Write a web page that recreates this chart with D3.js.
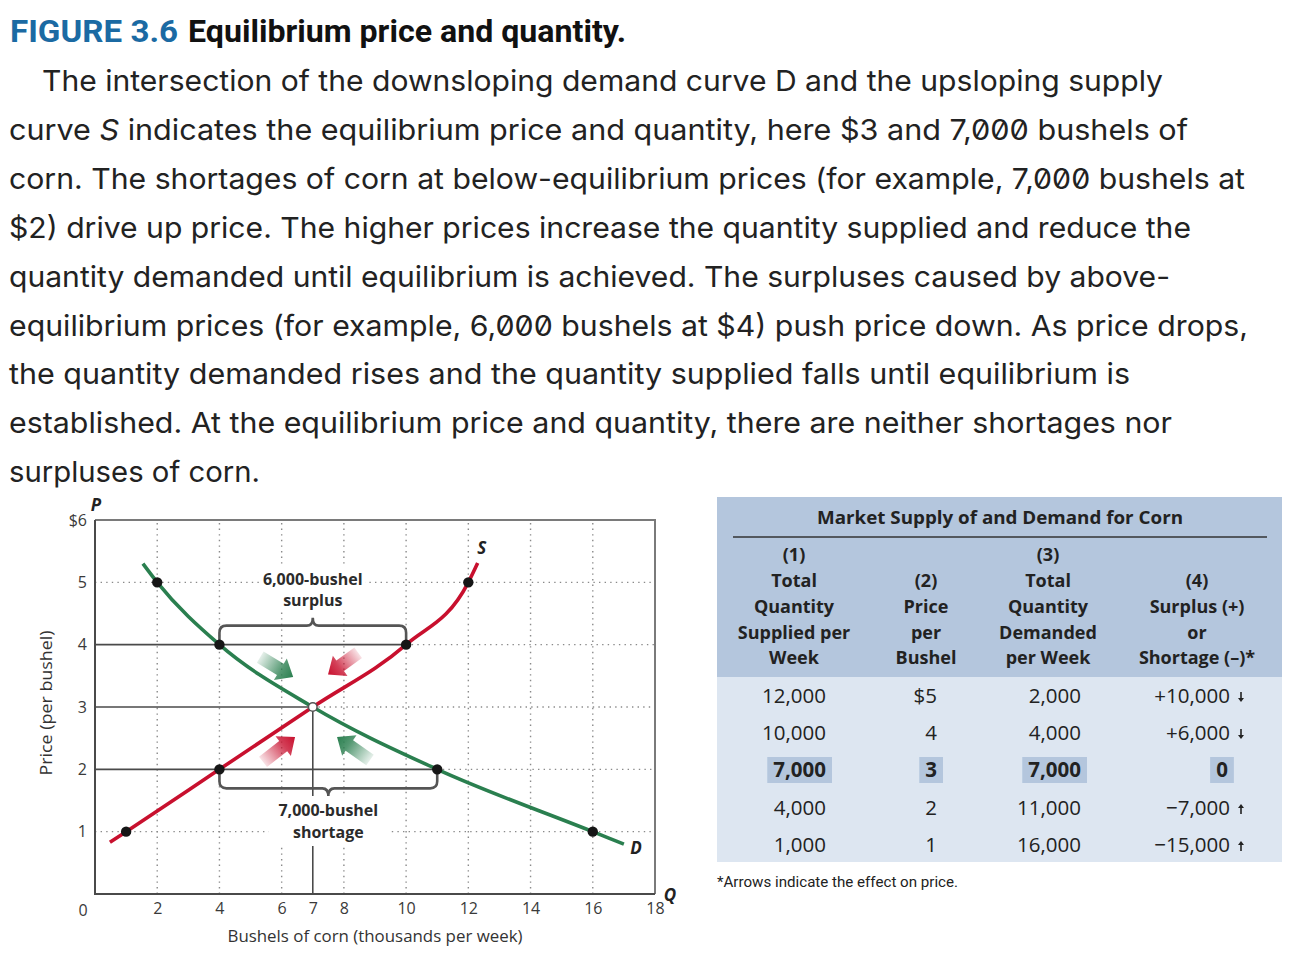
<!DOCTYPE html>
<html><head><meta charset="utf-8">
<script src="https://cdn.jsdelivr.net/npm/d3@7"></script>
<style>
body{margin:0;background:#fff;}
.para{font-family:Inter,"Noto Sans",sans-serif;font-size:29px;fill:#222;font-feature-settings:"zero" 1;}
.chart{font-family:"Open Sans",sans-serif;}
</style></head><body>
<svg id="c" width="1300" height="968"></svg>
<script>
// ---------- DATA ----------
const figureLabel = "FIGURE 3.6";
const figureTitle = "Equilibrium price and quantity.";
const paragraph = [
  ["The intersection of the downsloping demand curve D and the upsloping supply"],
  ["curve ", {i:"S"}, " indicates the equilibrium price and quantity, here $3 and 7,000 bushels of"],
  ["corn. The shortages of corn at below-equilibrium prices (for example, 7,000 bushels at"],
  ["$2) drive up price. The higher prices increase the quantity supplied and reduce the"],
  ["quantity demanded until equilibrium is achieved. The surpluses caused by above-"],
  ["equilibrium prices (for example, 6,000 bushels at $4) push price down. As price drops,"],
  ["the quantity demanded rises and the quantity supplied falls until equilibrium is"],
  ["established. At the equilibrium price and quantity, there are neither shortages nor"],
  ["surpluses of corn."]
];
const paraWidths = [1121, 1179, 1236, 1182, 1161, 1239, 1121, 1163, 251];

const prices = [5, 4, 3, 2, 1];                       // $ per bushel
const quantitySupplied = [12000, 10000, 7000, 4000, 1000];
const quantityDemanded = [2000, 4000, 7000, 11000, 16000];
const equilibriumPrice = 3;

// visible ends of the curves (thousands of bushels, $)
const demandCurveStart = [1.54, 5.3];
const demandCurveEnd = [17.0, 0.8];
const supplyCurveStart = [0.48, 0.83];
const supplyCurveEnd = [12.3, 5.31];

const xTicks = [2, 4, 6, 7, 8, 10, 12, 14, 16, 18];
const yTicks = [1, 2, 3, 4, 5, 6];
const gridQ = [2, 4, 6, 8, 10, 12, 14, 16];

// price-pressure arrows [fromQ, fromP, toQ, toP, colour]
const pressureArrows = [
  [5.31, 3.80, 6.37, 3.48, "green"],
  [8.46, 3.87, 7.49, 3.52, "red"],
  [5.40, 2.12, 6.43, 2.52, "red"],
  [8.84, 2.15, 7.78, 2.52, "green"]
];

const tableTitle = "Market Supply of and Demand for Corn";
const headers = [
  ["(1)", "Total", "Quantity", "Supplied per", "Week"],
  ["(2)", "Price", "per", "Bushel"],
  ["(3)", "Total", "Quantity", "Demanded", "per Week"],
  ["(4)", "Surplus (+)", "or", "Shortage (\u2013)*"]
];
const footnote = "*Arrows indicate the effect on price.";

// ---------- STYLE ----------
const GREEN = "#2a7f4f", RED = "#c8102e";
const svg = d3.select("#c");

// ---------- TITLE & PARAGRAPH ----------
svg.append("text").attr("x", 10).attr("y", 42)
  .attr("textLength", 168).attr("lengthAdjust", "spacingAndGlyphs")
  .style("font-family", "'Liberation Sans Narrow','Roboto',sans-serif").style("font-weight", "bold")
  .style("font-size", "32px").style("fill", "#1b6aa3").text(figureLabel);
svg.append("text").attr("x", 188).attr("y", 42)
  .attr("textLength", 438).attr("lengthAdjust", "spacingAndGlyphs")
  .style("font-family", "'Liberation Sans Narrow','Roboto',sans-serif").style("font-weight", "bold")
  .style("font-size", "32px").style("fill", "#111").text(figureTitle);

paragraph.forEach((parts, i) => {
  const t = svg.append("text").attr("class", "para")
    .attr("x", i === 0 ? 42 : 9).attr("y", 91 + i * 48.9)
    .attr("textLength", paraWidths[i]).attr("lengthAdjust", "spacingAndGlyphs");
  parts.forEach(p => {
    if (typeof p === "string") t.append("tspan").text(p);
    else t.append("tspan").style("font-style", "italic").text(p.i);
  });
});

// ---------- CHART ----------
const x = d3.scaleLinear().domain([0, 18]).range([95, 655]);
const y = d3.scaleLinear().domain([0, 6]).range([894, 520]);
const g = svg.append("g").attr("class", "chart");

// dotted grid
const dot = {stroke: "#8a8a8a", w: 1.4, dash: "1.4,4.2"};
g.selectAll(".vg").data(gridQ).join("line")
  .attr("x1", d => x(d)).attr("x2", d => x(d)).attr("y1", y(0)).attr("y2", y(6))
  .attr("stroke", dot.stroke).attr("stroke-width", dot.w).attr("stroke-dasharray", dot.dash);

const eqIdx = prices.indexOf(equilibriumPrice);
const hDotted = prices.map((p, i) => {
  const qs = quantitySupplied[i] / 1000, qd = quantityDemanded[i] / 1000;
  if (p === 5 || p === 1) return [0, p];
  return [Math.max(qs, qd), p];
});
g.selectAll(".hg").data(hDotted).join("line")
  .attr("x1", d => x(d[0])).attr("x2", x(18)).attr("y1", d => y(d[1])).attr("y2", d => y(d[1]))
  .attr("stroke", dot.stroke).attr("stroke-width", dot.w).attr("stroke-dasharray", dot.dash);

// solid guide lines at 4, 3, 2
const solidH = prices.map((p, i) => [p, Math.max(quantitySupplied[i], quantityDemanded[i]) / 1000])
  .filter(d => d[0] >= 2 && d[0] <= 4);
g.selectAll(".sh").data(solidH).join("line")
  .attr("x1", x(0)).attr("x2", d => x(d[1])).attr("y1", d => y(d[0])).attr("y2", d => y(d[0]))
  .attr("stroke", "#4a4a4a").attr("stroke-width", 1.6);
const qEq = quantitySupplied[eqIdx] / 1000;
g.append("line").attr("x1", x(qEq)).attr("x2", x(qEq)).attr("y1", y(equilibriumPrice)).attr("y2", y(0))
  .attr("stroke", "#4a4a4a").attr("stroke-width", 1.6);

// braces
function braceUp(xa, xb, yb, h, tip) {
  const xm = (xa + xb) / 2, r = 7, yt = yb - h;
  return `M${xa},${yb} V${yt + r} Q${xa},${yt} ${xa + r},${yt} H${xm - 6} Q${xm},${yt} ${xm},${yt - tip} Q${xm},${yt} ${xm + 6},${yt} H${xb - r} Q${xb},${yt} ${xb},${yt + r} V${yb}`;
}
function braceDown(xa, xb, yb, h, tip) {
  const xm = (xa + xb) / 2, r = 7, yt = yb + h;
  return `M${xa},${yb} V${yt - r} Q${xa},${yt} ${xa + r},${yt} H${xm - 6} Q${xm},${yt} ${xm},${yt + tip} Q${xm},${yt} ${xm + 6},${yt} H${xb - r} Q${xb},${yt} ${xb},${yt - r} V${yb}`;
}
const i4 = prices.indexOf(4), i2 = prices.indexOf(2);
g.append("path").attr("d", braceUp(x(quantityDemanded[i4] / 1000), x(quantitySupplied[i4] / 1000), y(4) - 2, 17, 8))
  .attr("fill", "none").attr("stroke", "#555").attr("stroke-width", 2.6);
g.append("path").attr("d", braceDown(x(quantitySupplied[i2] / 1000), x(quantityDemanded[i2] / 1000), y(2) + 2, 17, 8))
  .attr("fill", "none").attr("stroke", "#555").attr("stroke-width", 2.6);

// annotation labels with white backgrounds
function label(cx, ys, lines, pad) {
  const grp = g.append("g");
  const bg = grp.append("rect").attr("fill", "#fff");
  const txt = grp.append("text").attr("text-anchor", "middle")
    .style("font-size", "16px").style("font-weight", "bold").style("fill", "#2b2b2b");
  lines.forEach((l, k) => txt.append("tspan").attr("x", cx).attr("y", ys[k]).text(l));
  const b = txt.node().getBBox();
  bg.attr("x", b.x - pad[0]).attr("y", b.y - pad[1]).attr("width", b.width + 2 * pad[0]).attr("height", b.height + 2 * pad[1]);
}
const surplus4 = quantitySupplied[i4] - quantityDemanded[i4];
const shortage2 = quantityDemanded[i2] - quantitySupplied[i2];
label(x(7), [585, 606], [d3.format(",")(surplus4) + "-bushel", "surplus"], [3, 1]);
label(x(7.5), [816, 838], [d3.format(",")(shortage2) + "-bushel", "shortage"], [10, 3]);

// curves
const line = d3.line().x(d => x(d[0])).y(d => y(d[1])).curve(d3.curveMonotoneX);
const demandPts = [demandCurveStart, ...prices.map((p, i) => [quantityDemanded[i] / 1000, p]), demandCurveEnd]
  .sort((a, b) => a[0] - b[0]);
const supplyPts = [supplyCurveStart, ...prices.map((p, i) => [quantitySupplied[i] / 1000, p]), supplyCurveEnd]
  .sort((a, b) => a[0] - b[0]);
g.append("path").attr("d", line(demandPts)).attr("fill", "none").attr("stroke", GREEN).attr("stroke-width", 3.6);
g.append("path").attr("d", line(supplyPts)).attr("fill", "none").attr("stroke", RED).attr("stroke-width", 3.6);

// arrows
const defs = svg.append("defs");
pressureArrows.forEach((a, k) => {
  const [q1, p1, q2, p2, c] = a;
  const col = c === "green" ? GREEN : RED;
  const x1 = x(q1), y1 = y(p1), x2 = x(q2), y2 = y(p2);
  const gid = "ag" + k;
  const gr = defs.append("linearGradient").attr("id", gid).attr("gradientUnits", "userSpaceOnUse")
    .attr("x1", x1).attr("y1", y1).attr("x2", x2).attr("y2", y2);
  gr.append("stop").attr("offset", 0).attr("stop-color", col).attr("stop-opacity", 0.12);
  gr.append("stop").attr("offset", 0.65).attr("stop-color", col).attr("stop-opacity", 0.8);
  gr.append("stop").attr("offset", 1).attr("stop-color", col).attr("stop-opacity", 1);
  const dx = x2 - x1, dy = y2 - y1, L = Math.hypot(dx, dy), ux = dx / L, uy = dy / L, nx = -uy, ny = ux;
  const sw = 6.5, hw = 12.5, hl = 15, bx = x2 - ux * hl, by = y2 - uy * hl;
  const pts = [[x1 + nx * sw, y1 + ny * sw], [bx + nx * sw, by + ny * sw], [bx + nx * hw, by + ny * hw], [x2, y2],
    [bx - nx * hw, by - ny * hw], [bx - nx * sw, by - ny * sw], [x1 - nx * sw, y1 - ny * sw]];
  g.append("path").attr("d", "M" + pts.map(p => p.join(",")).join("L") + "Z").attr("fill", `url(#${gid})`);
});

// points
const pointData = [];
prices.forEach((p, i) => {
  if (p === equilibriumPrice) return;
  pointData.push([quantityDemanded[i] / 1000, p]);
  pointData.push([quantitySupplied[i] / 1000, p]);
});
g.selectAll(".pt").data(pointData).join("circle")
  .attr("cx", d => x(d[0])).attr("cy", d => y(d[1])).attr("r", 5.2).attr("fill", "#161616");
g.append("circle").attr("cx", x(qEq)).attr("cy", y(equilibriumPrice)).attr("r", 4.3)
  .attr("fill", "#fff").attr("stroke", "#555").attr("stroke-width", 1.5);

// frame
g.append("path").attr("d", `M${x(0)},${y(6)} H${x(18)} V${y(0)}`).attr("fill", "none").attr("stroke", "#7a7a7a").attr("stroke-width", 2);
g.append("path").attr("d", `M${x(0)},${y(6)} V${y(0)} H${x(18)}`).attr("fill", "none").attr("stroke", "#4a4a4a").attr("stroke-width", 2);

// axes
const xAxis = g.append("g").attr("transform", `translate(0,${y(0)})`)
  .call(d3.axisBottom(x).tickValues(xTicks).tickSize(0).tickPadding(9));
const yAxis = g.append("g").attr("transform", `translate(${x(0)},0)`)
  .call(d3.axisLeft(y).tickValues(yTicks).tickSize(0).tickPadding(8).tickFormat(d => d === 6 ? "$6" : d));
[xAxis, yAxis].forEach(a => {
  a.select(".domain").remove();
  a.attr("font-size", null).attr("font-family", null);
  a.selectAll("text").style("font-family", "'Open Sans',sans-serif").style("font-size", "16px").style("fill", "#3a3a3a");
});
g.append("text").attr("x", 83).attr("y", 916).attr("text-anchor", "middle")
  .style("font-size", "16px").style("fill", "#3a3a3a").text("0");

// axis titles & letters
g.append("text").attr("x", 375).attr("y", 942).attr("text-anchor", "middle")
  .attr("textLength", 295).attr("lengthAdjust", "spacingAndGlyphs")
  .style("font-size", "16px").style("fill", "#333").text("Bushels of corn (thousands per week)");
g.append("text").attr("transform", "translate(52,703) rotate(-90)").attr("text-anchor", "middle")
  .attr("textLength", 145).attr("lengthAdjust", "spacingAndGlyphs")
  .style("font-size", "16px").style("fill", "#333").text("Price (per bushel)");
const letter = (t, lx, ly) => g.append("text").attr("x", lx).attr("y", ly).attr("text-anchor", "middle")
  .style("font-size", "17px").style("font-weight", "bold").style("font-style", "italic").style("fill", "#222").text(t);
letter("P", 96, 511);
letter("Q", 670, 901);
letter("S", x(supplyCurveEnd[0]) + 4, y(supplyCurveEnd[1]) - 9);
letter("D", x(demandCurveEnd[0]) + 12, y(demandCurveEnd[1]) + 10);

// ---------- TABLE ----------
const T = svg.append("g").style("font-family", "'Open Sans',sans-serif").style("fill", "#222");
const HEAD = "#b4c6dd", BODY = "#dde6f1";
T.append("rect").attr("x", 717).attr("y", 497).attr("width", 565).attr("height", 180).attr("fill", HEAD);
T.append("rect").attr("x", 717).attr("y", 677).attr("width", 565).attr("height", 185).attr("fill", BODY);
T.append("text").attr("x", 1000).attr("y", 524).attr("text-anchor", "middle")
  .attr("textLength", 366).attr("lengthAdjust", "spacingAndGlyphs")
  .style("font-weight", "bold").style("font-size", "18px").text(tableTitle);
T.append("line").attr("x1", 733).attr("x2", 1267).attr("y1", 537).attr("y2", 537).attr("stroke", "#333").attr("stroke-width", 1.6);

const colCenters = [794, 926, 1048, 1197];
const headBase = [561, 587, 613, 639, 664];
headers.forEach((h, c) => {
  const offset = h.length === 5 ? 0 : 1;
  h.forEach((s, r) => T.append("text").attr("x", colCenters[c]).attr("y", headBase[r + offset])
    .attr("text-anchor", "middle").style("font-weight", "bold").style("font-size", "18px").text(s));
});

const rowBase = [703, 740, 777, 815, 852];
const fmt = d3.format(",");
const signed = v => v === 0 ? "0" : (v > 0 ? "+" : "\u2212") + fmt(Math.abs(v));
const rightEdges = [826, 937, 1081, 1230];
prices.forEach((p, i) => {
  const isEq = p === equilibriumPrice;
  const diff = quantitySupplied[i] - quantityDemanded[i];
  const cells = [fmt(quantitySupplied[i]), i === 0 ? "$" + p : String(p), fmt(quantityDemanded[i]), signed(diff)];
  cells.forEach((s, c) => {
    const t = T.append("text").attr("y", rowBase[i]).style("font-size", "20.5px")
      .style("font-weight", isEq ? "bold" : "normal").text(s);
    if (isEq && c === 3) t.attr("x", 1222).attr("text-anchor", "middle");
    else t.attr("x", rightEdges[c]).attr("text-anchor", "end");
    if (isEq) {
      const b = t.node().getBBox();
      T.insert("rect", "text").attr("x", b.x - 6).attr("y", rowBase[i] - 20).attr("width", b.width + 12).attr("height", 26).attr("fill", HEAD);
    }
  });
  if (diff !== 0) {
    const ax = 1241, ay = rowBase[i] - 6, dir = diff > 0 ? 1 : -1;
    T.append("path").attr("d", `M${ax},${ay - 5 * dir} V${ay + 1 * dir}`).attr("stroke", "#222").attr("stroke-width", 1.6);
    T.append("path").attr("d", `M${ax - 3},${ay + 1 * dir} L${ax + 3},${ay + 1 * dir} L${ax},${ay + 5 * dir}Z`).attr("fill", "#222");
  }
});
T.append("text").attr("x", 717).attr("y", 887).attr("textLength", 241).attr("lengthAdjust", "spacingAndGlyphs")
  .style("font-family", "'Liberation Sans Narrow','Roboto',sans-serif").style("font-size", "15px").text(footnote);
</script>
</body></html>
